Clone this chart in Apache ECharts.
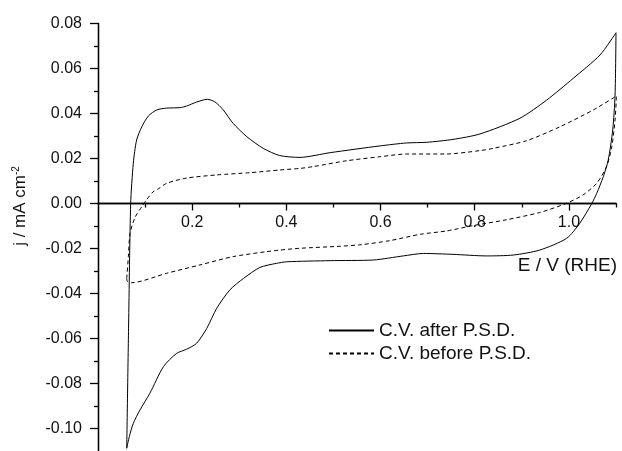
<!DOCTYPE html>
<html>
<head>
<meta charset="utf-8">
<script src="https://cdn.jsdelivr.net/npm/echarts@6/dist/echarts.min.js"></script>
<style>
  html, body { margin: 0; padding: 0; background: #fff; }
  #c1 { width: 622px; height: 451px; }
</style>
</head>
<body>
<div id="c1"></div>
<script>
// potentials (V vs RHE) and current densities (mA cm-2)
var afterE = [0.061, 0.065, 0.0694, 0.075, 0.082, 0.093, 0.107, 0.125, 0.146, 0.174, 0.188, 0.2095,
  0.232, 0.248, 0.266, 0.287, 0.316, 0.351, 0.386, 0.429, 0.493, 0.599, 0.655, 0.698, 0.754, 0.811,
  0.896, 0.953, 1.009, 1.066, 1.100, 1.098, 1.093, 1.0835, 1.073, 1.059, 1.048, 1.023, 0.995, 0.938,
  0.882, 0.825, 0.754, 0.691, 0.648, 0.585, 0.493, 0.401, 0.379, 0.344, 0.309, 0.280, 0.252, 0.231,
  0.2095, 0.188, 0.167, 0.139, 0.110, 0.089, 0.075, 0.0665, 0.061];
var afterJ = [-0.1088, -0.054, 0.000, 0.0179, 0.0282, 0.0341, 0.0389, 0.0416, 0.0424, 0.0426, 0.0433, 0.0451,
  0.0463, 0.0452, 0.0416, 0.0356, 0.0297, 0.0245, 0.0213, 0.0205, 0.0226, 0.0256, 0.0269, 0.0272, 0.0285, 0.0309,
  0.0379, 0.046, 0.0556, 0.066, 0.0759, 0.0482, 0.0327, 0.0193, 0.0119, 0.0045, -0.0002, -0.0088, -0.0155, -0.0207,
  -0.0229, -0.0233, -0.0226, -0.0222, -0.0233, -0.0251, -0.0254, -0.0259, -0.0266, -0.0284, -0.0333, -0.0384, -0.0466, -0.0555,
  -0.0621, -0.0648, -0.0666, -0.0725, -0.0844, -0.0918, -0.0977, -0.1036, -0.1088];

var beforeE = [0.061, 0.0645, 0.068, 0.0786, 0.093, 0.103, 0.117, 0.128, 0.146, 0.188, 0.252, 0.323,
  0.386, 0.429, 0.457, 0.528, 0.599, 0.655, 0.740, 0.811, 0.839, 0.910, 0.981, 1.052, 1.101,
  1.098, 1.091, 1.080, 1.059, 1.030, 0.995, 0.938, 0.868, 0.797, 0.740, 0.684, 0.620, 0.559, 0.514,
  0.429, 0.386, 0.358, 0.287, 0.2166, 0.146, 0.0715, 0.062, 0.061];
var beforeJ = [-0.0333, -0.0236, -0.0133, -0.0062, -0.0014, 0.0016, 0.0052, 0.0065, 0.009, 0.0113, 0.0127, 0.0137,
  0.0149, 0.0156, 0.0164, 0.019, 0.0208, 0.022, 0.022, 0.0235, 0.0245, 0.0279, 0.0341, 0.0416, 0.0478,
  0.0371, 0.0252, 0.0164, 0.009, 0.0038, 0.0001, -0.004, -0.0072, -0.0098, -0.0122, -0.0137, -0.0165, -0.0183, -0.019,
  -0.0199, -0.0207, -0.0214, -0.0236, -0.0273, -0.031, -0.0352, -0.0345, -0.0333];

var xMajorTicks = [0.2, 0.4, 0.6, 0.8, 1.0];
var xMinorTicks = [0.1, 0.3, 0.5, 0.7, 0.9, 1.1];
var yMajorTicks = [-0.10, -0.08, -0.06, -0.04, -0.02, 0.00, 0.02, 0.04, 0.06, 0.08];
var yMinorTicks = [-0.09, -0.07, -0.05, -0.03, -0.01, 0.01, 0.03, 0.05, 0.07];

var seriesNames = ['C.V. after P.S.D.', 'C.V. before P.S.D.'];

function pairs(xs, ys) {
  var out = [];
  for (var i = 0; i < xs.length; i++) out.push([xs[i], ys[i]]);
  return out;
}

var font = "'Liberation Sans', Arial, Helvetica, sans-serif";
var axisLineStyle = { color: '#000', width: 1.3 };
var yMin = -0.11, yMax = 0.08;
// the E axis crosses at j = 0: a second grid whose bottom edge sits on that line carries it
var plotTop = 23.5, plotH = 451 - plotTop;
var zeroH = plotH * yMax / (yMax - yMin);

var myChart = echarts.init(document.getElementById('c1'), null, { renderer: 'canvas' });
var option = {
  animation: false,
  backgroundColor: '#fff',
  grid: [
    { left: 98, right: 6, top: plotTop, height: plotH, containLabel: false, outerBoundsMode: 'none' },
    { left: 98, right: 6, top: plotTop, height: zeroH, containLabel: false, outerBoundsMode: 'none' }
  ],
  legend: {
    orient: 'vertical',
    left: 328,
    top: 321,
    padding: 0,
    itemGap: 4,
    itemWidth: 45,
    itemHeight: 14,
    itemStyle: { opacity: 0 },
    textStyle: { fontFamily: font, fontSize: 19, color: '#111' },
    data: seriesNames
  },
  xAxis: [
    { type: 'value', gridIndex: 0, min: 0, max: 1.1, show: false },
    {
      type: 'value', gridIndex: 1, min: 0, max: 1.1, position: 'bottom',
      axisLine: { onZero: false, lineStyle: axisLineStyle },
      axisTick: { customValues: xMajorTicks, length: 7, lineStyle: axisLineStyle },
      axisLabel: {
        customValues: xMajorTicks, margin: 11, fontSize: 16, fontFamily: font, color: '#111',
        formatter: function (v) { return v.toFixed(1); }
      },
      splitLine: { show: false }
    },
    {
      type: 'value', gridIndex: 1, min: 0, max: 1.1, position: 'bottom',
      axisLine: { onZero: false, lineStyle: axisLineStyle },
      axisTick: { customValues: xMinorTicks, length: 4, lineStyle: axisLineStyle },
      axisLabel: { show: false },
      splitLine: { show: false }
    }
  ],
  yAxis: [
    {
      type: 'value', gridIndex: 0, min: yMin, max: yMax, position: 'left',
      axisLine: { show: true, onZero: false, lineStyle: axisLineStyle },
      axisTick: { customValues: yMajorTicks, length: 8, lineStyle: axisLineStyle },
      axisLabel: {
        customValues: yMajorTicks, margin: 16, fontSize: 16, fontFamily: font, color: '#111',
        formatter: function (v) { return v.toFixed(2); }
      },
      splitLine: { show: false }
    },
    {
      type: 'value', gridIndex: 0, min: yMin, max: yMax, position: 'left',
      axisLine: { show: true, onZero: false, lineStyle: axisLineStyle },
      axisTick: { customValues: yMinorTicks, length: 4, lineStyle: axisLineStyle },
      axisLabel: { show: false },
      splitLine: { show: false }
    },
    { type: 'value', gridIndex: 1, min: 0, max: yMax, show: false }
  ],
  graphic: [
    {
      type: 'text', x: 617, y: 266,
      style: { text: 'E / V (RHE)', fontFamily: font, fontSize: 19, fill: '#111', align: 'right', verticalAlign: 'middle' }
    },
    {
      type: 'text', x: 20, y: 206, rotation: Math.PI / 2,
      style: {
        text: '{a|j / mA cm}{s|-2}', align: 'center', verticalAlign: 'middle',
        rich: {
          a: { fontFamily: font, fontSize: 17, fill: '#111' },
          s: { fontFamily: font, fontSize: 10, fill: '#111', verticalAlign: 'top' }
        }
      }
    }
  ],
  series: [
    {
      name: seriesNames[0], type: 'line', xAxisIndex: 0, yAxisIndex: 0,
      data: pairs(afterE, afterJ), showSymbol: false, symbol: 'none', smooth: 0.25,
      lineStyle: { color: '#000', width: 1 }, itemStyle: { color: '#000' }
    },
    {
      name: seriesNames[1], type: 'line', xAxisIndex: 0, yAxisIndex: 0,
      data: pairs(beforeE, beforeJ), showSymbol: false, symbol: 'none', smooth: 0.25,
      lineStyle: { color: '#000', width: 1, type: [4, 3] }, itemStyle: { color: '#000' }
    }
  ]
};
myChart.setOption(option);
</script>
</body>
</html>
